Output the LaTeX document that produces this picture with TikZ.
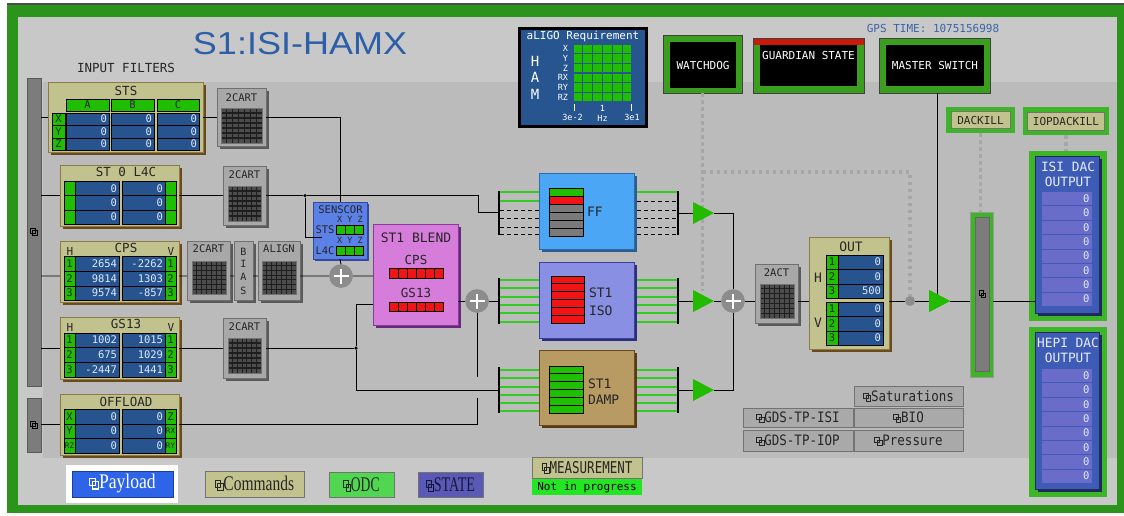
\documentclass[tikz,border=0pt]{standalone}
\usepackage{fontspec}
\setmainfont{Liberation Serif}
\newfontfamily\mono{DejaVu Sans Mono}
\newfontfamily\hel{Liberation Sans}
\newfontfamily\tms{Liberation Serif}
\usetikzlibrary{calc,shadows}

\definecolor{frameG}{HTML}{2B951B}
\definecolor{bgTop}{HTML}{C8C8C8}
\definecolor{bgMain}{HTML}{BBBBBB}
\definecolor{tanF}{HTML}{C2C28F}
\definecolor{tanE}{HTML}{8C7B45}
\definecolor{tanS}{HTML}{6B4A1E}
\definecolor{cellB}{HTML}{27538E}
\definecolor{valT}{HTML}{DCEBFF}
\definecolor{ledG}{HTML}{1FBE00}
\definecolor{ledR}{HTML}{F01414}
\definecolor{ledGray}{HTML}{7A7A7A}
\definecolor{boxG}{HTML}{A8A8A8}
\definecolor{boxE}{HTML}{707070}
\definecolor{boxGS}{HTML}{5A5A5A}
\definecolor{gridD}{HTML}{4C4C4C}
\definecolor{gridL}{HTML}{1E1E1E}
\definecolor{sensB}{HTML}{5B80E6}
\definecolor{sensE}{HTML}{3448A0}
\definecolor{blendP}{HTML}{D67DDC}
\definecolor{blendE}{HTML}{8A3A98}
\definecolor{blendS}{HTML}{65287A}
\definecolor{ffB}{HTML}{4BA6F6}
\definecolor{ffE}{HTML}{2F6AB0}
\definecolor{ffS}{HTML}{2C5C8E}
\definecolor{isoB}{HTML}{898FE2}
\definecolor{isoE}{HTML}{3A3FA0}
\definecolor{isoS}{HTML}{2B2E7A}
\definecolor{dampT}{HTML}{B89B62}
\definecolor{dampE}{HTML}{6A4A20}
\definecolor{dampS}{HTML}{5A3A14}
\definecolor{sumG}{HTML}{8C8C8C}
\definecolor{dotG}{HTML}{A6A6A6}
\definecolor{triG}{HTML}{22BB00}
\definecolor{busG}{HTML}{33CC22}
\definecolor{dkG}{HTML}{3CB526}
\definecolor{dacB}{HTML}{3E5CB6}
\definecolor{dacC}{HTML}{6A6CCA}
\definecolor{dacS}{HTML}{1F2A5E}
\definecolor{dacT}{HTML}{E6ECFF}
\definecolor{ligoB}{HTML}{26558F}
\definecolor{wdG}{HTML}{3C9E1E}
\definecolor{guardR}{HTML}{C81A0A}
\definecolor{titleB}{HTML}{2D5EA8}
\definecolor{gpsB}{HTML}{3A64A8}
\definecolor{txtD}{HTML}{262626}
\definecolor{payB}{HTML}{2D64E8}
\definecolor{payE}{HTML}{1A3C9A}
\definecolor{odcG}{HTML}{50D650}
\definecolor{stateP}{HTML}{5A5AB6}
\definecolor{stateT}{HTML}{16163A}
\definecolor{nipG}{HTML}{22E622}
\definecolor{barG}{HTML}{7C7C7C}
\definecolor{btnG}{HTML}{A9A9A9}

\newcommand\fsz[1]{\fontsize{#1}{#1}\selectfont}
% related-display icon: two overlapping squares
\newcommand\relicon[1][1]{\tikz[x=#1pt,y=#1pt,baseline=0pt,line width=0.8pt]{\draw (0,3) rectangle (6,9); \draw (3,0) rectangle (9,6);}}

\newcount\cellno
% blue readback cell: x1 y1 x2 y2 value
\newcommand\vc[5]{\global\advance\cellno by 1 \edef\cn{\the\cellno}%
  \node[vcell,minimum width={#3-#1},minimum height={#4-#2}] (vc\cn) at (#1,#2) {};%
  \node[valtxt] (vt\cn) at ({#3-1.5},{(#2+#4)/2}) {#5};}
% green label cell: x1 y1 x2 y2 label
\newcommand\gc[5]{\global\advance\cellno by 1 \edef\cn{\the\cellno}%
  \node[gcell,minimum width={#3-#1},minimum height={#4-#2}] (gc\cn) at (#1,#2) {#5};}
% matrix icon
\newcommand\gridicon[4]{%
  \fill[gridD] (#1,#2) rectangle (#3,#4);
  \foreach \k in {1,...,6}{%
    \draw[gridL,line width=1.1pt] ({#1+\k*(#3-#1)/7},#2) -- ({#1+\k*(#3-#1)/7},#4);
    \draw[gridL,line width=1.1pt] (#1,{#2+\k*(#4-#2)/7}) -- (#3,{#2+\k*(#4-#2)/7});}
  \draw[black!55,line width=0.8pt] (#1,#2) rectangle (#3,#4);}
% vertical stack of six filter indicators
\newcommand\vstack[5]{%
  \foreach \c [count=\k from 0] in {#5}{%
    \filldraw[fill=\c,draw=black,line width=0.8pt] (#1,{#2+\k*(#4-#2)/6}) rectangle (#3,{#2+(\k+1)*(#4-#2)/6});}}
% horizontal row of six red indicators
\newcommand\hstack[4]{%
  \foreach \k in {0,...,5}{%
    \filldraw[fill=ledR,draw=black,line width=0.8pt] ({#1+\k*(#3-#1)/6},#2) rectangle ({#1+(\k+1)*(#3-#1)/6},#4);}}
% summing junction
\newcommand\sumnode[3]{%
  \node[sum] (#1) at (#2,#3) {};
  \draw[white,line width=2.6pt] ([xshift=-7.5pt]#1.center) -- ([xshift=7.5pt]#1.center)
    ([yshift=-7.5pt]#1.center) -- ([yshift=7.5pt]#1.center);}
% gain triangle: name, left x, centre y
\newcommand\amp[3]{%
  \fill[triG] (#2,{#3-11}) -- ({#2+21},#3) -- (#2,{#3+11}) -- cycle;
  \coordinate (#1i) at (#2,#3); \coordinate (#1o) at ({#2+21},#3);}
% eight DAC channel rows: top, bottom, name prefix
\newcommand\dacrows[3]{%
  \foreach \k in {0,...,7}{%
    \fill[dacC] (1042,{#1+\k*(#2-#1)/8}) rectangle (1092,{#1+(\k+1)*(#2-#1)/8-1});
    \node[valtxt] (#3\k) at (1090,{#1+(\k+0.45)*(#2-#1)/8}) {0};}}

\begin{document}
\begin{tikzpicture}[x=1pt,y=-1pt,line width=0.9pt,
  lbl/.style={inner sep=0pt,outer sep=0pt,text=txtD,font=\mono\fsz{11}},
  tanbox/.style={anchor=north west,inner sep=0pt,outer sep=0pt,fill=tanF,draw=tanE,line width=0.8pt,
    general shadow={fill=tanS,shadow xshift=3pt,shadow yshift=-3pt}},
  graybox/.style={anchor=north west,inner sep=0pt,outer sep=0pt,fill=boxG,draw=boxE,line width=0.8pt,
    general shadow={fill=boxGS,shadow xshift=2.5pt,shadow yshift=-2.5pt}},
  vcell/.style={anchor=north west,inner sep=0pt,outer sep=0pt,fill=cellB,draw=black,line width=0.7pt},
  gcell/.style={anchor=north west,inner sep=0pt,outer sep=0pt,fill=ledG,draw=black,line width=0.7pt,text=txtD,font=\mono\fsz{10.5}},
  valtxt/.style={anchor=east,inner sep=0pt,text=valT,font=\mono\fsz{10.5}},
  wire/.style={draw=black,line width=0.9pt},
  dots/.style={draw=dotG,line width=3.5pt,dash pattern=on 3.5pt off 3.5pt},
  busg/.style={draw=busG,line width=1.8pt},
  busd/.style={draw=black,line width=1pt,dash pattern=on 4pt off 3pt},
  busbar/.style={fill=black,inner sep=0pt,outer sep=0pt,minimum width=2.2pt},
  sum/.style={circle,fill=sumG,draw=black!45,line width=0.6pt,minimum size=23pt,inner sep=0pt},
  jdot/.style={circle,fill=black,inner sep=0pt,minimum size=3.5pt},
  sidebar/.style={fill=barG,draw=black!65,line width=0.8pt,minimum width=14pt,inner sep=0pt},
  panel/.style={anchor=north west,inner sep=0pt,outer sep=0pt},
  btn/.style={anchor=north west,inner sep=0pt,outer sep=0pt,draw=black!55,line width=0.8pt},
]
\useasboundingbox (0,0) rectangle (1124,515);
% screen background
\fill[white] (0,0) rectangle (1124,515);
\fill[black!70] (7,2.5) rectangle (1124,5);
\fill[frameG] (7,5) rectangle (1124,513);
\fill[bgTop] (18,17) rectangle (1117,505);
\fill[bgMain] (43,82) rectangle (1117,458);

% title and headings
\node[inner sep=0pt,text=titleB] (title) at (300,44) {\scalebox{1}[0.88]{\hel\fsz{36}S1:ISI-HAMX}};
\node[lbl,font=\mono\fsz{12.5}] (inputs) at (126,68) {INPUT FILTERS};
\node[lbl,text=gpsB] (gps) at (933,28) {GPS TIME: 1075156998};

% input side bars
\node[sidebar,minimum height=308pt] (bar1) at (34,232) {\relicon[0.75]};
\node[sidebar,minimum height=54pt] (bar2) at (34,425) {\relicon[0.75]};

% STS
\node[tanbox,minimum width=155pt,minimum height=70pt] (sts) at (48,82) {};
\node[lbl,font=\mono\fsz{12.5}] (stsT) at (126,91) {STS};
\gc{66}{99}{109}{111}{A}\gc{111}{99}{154}{111}{B}\gc{157}{99}{199}{111}{C}
\gc{52}{113}{65}{125}{X}\gc{52}{125}{65}{138}{Y}\gc{52}{138}{65}{150}{Z}
\foreach \ya/\yb in {113/125,125/138,138/150}{\vc{66}{\ya}{109}{\yb}{0}\vc{111}{\ya}{154}{\yb}{0}\vc{157}{\ya}{199}{\yb}{0}}

% ST0 L4C
\node[tanbox,minimum width=119pt,minimum height=61pt] (l4c) at (60,165) {};
\node[lbl,font=\mono\fsz{12.5}] (l4cT) at (126,172) {ST 0 L4C};
\foreach \ya/\yb in {181/195.5,195.5/210,210/224}{\gc{64}{\ya}{75}{\yb}{}\vc{75}{\ya}{119}{\yb}{0}\vc{122}{\ya}{165}{\yb}{0}\gc{165}{\ya}{176}{\yb}{}}

% CPS
\node[tanbox,minimum width=119pt,minimum height=61pt] (cps) at (60,241) {};
\node[lbl,font=\mono\fsz{12.5}] (cpsT) at (126,248) {CPS};
\node[lbl] (cpsH) at (70,251) {H};
\node[lbl] (cpsV) at (171,251) {V};
\foreach \ya/\yb/\n/\a/\b in {256/271/1/2654/-2262,271/286/2/9814/1303,286/300/3/9574/-857}{\gc{64}{\ya}{75}{\yb}{\n}\vc{75}{\ya}{119}{\yb}{\a}\vc{122}{\ya}{165}{\yb}{\b}\gc{165}{\ya}{176}{\yb}{\n}}

% GS13
\node[tanbox,minimum width=119pt,minimum height=62pt] (gs13) at (60,317) {};
\node[lbl,font=\mono\fsz{12.5}] (gs13T) at (126,324) {GS13};
\node[lbl] (gsH) at (70,327) {H};
\node[lbl] (gsV) at (171,327) {V};
\foreach \ya/\yb/\n/\a/\b in {333/347/1/1002/1015,347/362/2/675/1029,362/377/3/-2447/1441}{\gc{64}{\ya}{75}{\yb}{\n}\vc{75}{\ya}{119}{\yb}{\a}\vc{122}{\ya}{165}{\yb}{\b}\gc{165}{\ya}{176}{\yb}{\n}}

% OFFLOAD
\node[tanbox,minimum width=119pt,minimum height=61pt] (off) at (60,394) {};
\node[lbl,font=\mono\fsz{12.5}] (offT) at (126,402) {OFFLOAD};
\gc{64}{409}{75}{424}{X}\vc{75}{409}{119}{424}{0}\vc{122}{409}{165}{424}{0}\gc{165}{409}{176}{424}{Z}
\gc{64}{424}{75}{438}{Y}\vc{75}{424}{119}{438}{0}\vc{122}{424}{165}{438}{0}\gc{165}{424}{176}{438}{\fsz{7.5}RX}
\gc{64}{438}{75}{453}{\fsz{7.5}RZ}\vc{75}{438}{119}{453}{0}\vc{122}{438}{165}{453}{0}\gc{165}{438}{176}{453}{\fsz{7.5}RY}

% basis-change and alignment matrices
\node[graybox,minimum width=49pt,minimum height=58pt] (cart1) at (217,88) {};
\node[lbl,font=\mono\fsz{10.5}] (cart1T) at (241.5,98) {2CART};
\gridicon{221}{108}{262}{143}
\node[graybox,minimum width=43pt,minimum height=59pt] (cart2) at (223,166) {};
\node[lbl,font=\mono\fsz{10.5}] (cart2T) at (244.5,175) {2CART};
\gridicon{228}{186}{261}{221}
\node[graybox,minimum width=43pt,minimum height=59pt] (cart3) at (187,241) {};
\node[lbl,font=\mono\fsz{10.5}] (cart3T) at (208.5,249) {2CART};
\gridicon{192}{261}{226}{294}
\node[graybox,minimum width=19pt,minimum height=59pt] (bias) at (234,241) {};
\node[lbl,font=\mono\fsz{10}] (biasB) at (243.5,252) {B};
\node[lbl,font=\mono\fsz{10}] (biasI) at (243.5,264) {I};
\node[lbl,font=\mono\fsz{10}] (biasA) at (243.5,277) {A};
\node[lbl,font=\mono\fsz{10}] (biasS) at (243.5,291) {S};
\node[graybox,minimum width=42pt,minimum height=59pt] (align) at (258,241) {};
\node[lbl,font=\mono\fsz{10.5}] (alignT) at (279,249) {ALIGN};
\gridicon{262}{261}{296}{294}
\node[graybox,minimum width=43pt,minimum height=60pt] (cart4) at (223,318) {};
\node[lbl,font=\mono\fsz{10.5}] (cart4T) at (244.5,327) {2CART};
\gridicon{228}{338}{261}{373}

% sensor correction
\node[panel,fill=sensB,draw=sensE,line width=0.8pt,minimum width=54pt,minimum height=57pt,
  general shadow={fill=sensE,shadow xshift=1.5pt,shadow yshift=-1.5pt}] (sens) at (313,202) {};
\node[lbl,font=\mono\fsz{10.5}] (sensT) at (340.5,209.5) {SENSCOR};
\node[lbl,font=\mono\fsz{8.5}] (sensX1) at (350,219.5) {X Y Z};
\node[lbl,font=\mono\fsz{10.5}] (sensS) at (325,230) {STS};
\gc{336}{225}{345}{234}{}\gc{345}{225}{354}{234}{}\gc{354}{225}{363}{234}{}
\node[lbl,font=\mono\fsz{8.5}] (sensX2) at (350,240.5) {X Y Z};
\node[lbl,font=\mono\fsz{10.5}] (sensL) at (325,251) {L4C};
\gc{336}{246}{345}{255}{}\gc{345}{246}{354}{255}{}\gc{354}{246}{363}{255}{}

% blend
\node[panel,fill=blendP,draw=blendE,line width=0.8pt,minimum width=85pt,minimum height=101pt,
  general shadow={fill=blendS,shadow xshift=3pt,shadow yshift=-3pt}] (blend) at (373,224) {};
\node[lbl,font=\mono\fsz{13}] (blendT) at (416,238) {ST1 BLEND};
\node[lbl,font=\mono\fsz{12.5}] (blendC) at (416,260) {CPS};
\hstack{389}{268}{443}{278}
\node[lbl,font=\mono\fsz{12.5}] (blendG) at (416,293) {GS13};
\hstack{389}{302}{443}{311}

% summing junctions
\sumnode{s1}{341}{276}
\sumnode{s2}{477}{301}
\sumnode{s3}{733}{301}
\node[jdot] (j1) at (305,195.5) {};
\node[jdot] (j2) at (356,348) {};

% control banks
\node[panel,fill=ffB,draw=ffE,line width=0.8pt,minimum width=95pt,minimum height=76pt,
  general shadow={fill=ffS,shadow xshift=3pt,shadow yshift=-3pt}] (ff) at (539,173) {};
\vstack{549}{188}{583}{236}{ledG,ledR,ledGray,ledGray,ledGray,ledGray}
\node[lbl,font=\mono\fsz{13},anchor=west] (ffT) at (587,212) {FF};
\node[panel,fill=isoB,draw=isoE,line width=0.8pt,minimum width=95pt,minimum height=76pt,
  general shadow={fill=isoS,shadow xshift=3pt,shadow yshift=-3pt}] (iso) at (539,262) {};
\vstack{551}{276}{584}{323}{ledR,ledR,ledR,ledR,ledR,ledR}
\node[lbl,font=\mono\fsz{13},anchor=west] (isoT1) at (589,293) {ST1};
\node[lbl,font=\mono\fsz{13},anchor=west] (isoT2) at (589,311) {ISO};
\node[panel,fill=dampT,draw=dampE,line width=0.8pt,minimum width=95pt,minimum height=75pt,
  general shadow={fill=dampS,shadow xshift=3pt,shadow yshift=-3pt}] (damp) at (539,350) {};
\vstack{549}{366}{583}{413}{ledG,ledG,ledG,ledG,ledG,ledG}
\node[lbl,font=\mono\fsz{13},anchor=west] (dampT1) at (588,384) {ST1};
\node[lbl,font=\mono\fsz{13},anchor=west] (dampT2) at (588,400) {DAMP};

% bus bars
\node[busbar,minimum height=44pt] (ffin) at (499,212.5) {};
\node[busbar,minimum height=44pt] (ffout) at (678,212.5) {};
\node[busbar,minimum height=46pt] (isoin) at (499,300.5) {};
\node[busbar,minimum height=46pt] (isoout) at (678,300.5) {};
\node[busbar,minimum height=46pt] (dampin) at (499,390) {};
\node[busbar,minimum height=46pt] (dampout) at (678,390) {};
\foreach \y/\s in {192/busg,201/busg,210/busd,218/busd,227/busd,234/busd} \draw[\s] (500,\y) -- (539,\y);
\foreach \y/\s in {192/busg,201/busd,210/busd,218/busd,227/busd,234/busd} \draw[\s] (637,\y) -- (677,\y);
\foreach \y in {280,288,297,305,313,322} {\draw[busg] (500,\y) -- (539,\y); \draw[busg] (637,\y) -- (677,\y);}
\foreach \y in {370,378,387,395,403,411} {\draw[busg] (500,\y) -- (539,\y); \draw[busg] (637,\y) -- (677,\y);}

% merge point of the interlock links
\node[circle,fill=dotG!85!black,inner sep=0pt,minimum size=10pt] (dotn) at (910,301) {};

% actuator matrix and outputs
\node[graybox,minimum width=43pt,minimum height=59pt] (act) at (755,264) {};
\node[lbl,font=\mono\fsz{10.5}] (actT) at (776.5,273) {2ACT};
\gridicon{760}{284}{794}{318}
\node[tanbox,minimum width=80pt,minimum height=112pt] (out) at (809,237) {};
\node[lbl,font=\mono\fsz{13}] (outT) at (851,247) {OUT};
\node[lbl,font=\mono\fsz{13}] (outH) at (818,278) {H};
\node[lbl,font=\mono\fsz{13}] (outV) at (818,323) {V};
\foreach \ya/\yb/\n/\v in {255/269/1/0,269/284/2/0,284/298/3/500,302/316/1/0,316/331/2/0,331/345/3/0}{\gc{826}{\ya}{838}{\yb}{\n}\vc{838}{\ya}{883}{\yb}{\v}}

% DAC selector and DAC outputs
\node[panel,fill=dkG,draw=black!40,line width=0.6pt,minimum width=23pt,minimum height=165pt] (dsel) at (970,212) {};
\node[fill=barG,draw=black!60,line width=0.8pt,inner sep=0pt,minimum width=14pt,minimum height=154pt] (dselB) at (982.5,294) {\relicon[0.7]};
\node[panel,fill=dkG,minimum width=78pt,minimum height=170pt] (isidac) at (1029,151) {};
\node[panel,fill=dacB,draw=dacS,line width=0.8pt,minimum width=64pt,minimum height=157pt,
  general shadow={fill=dacS,shadow xshift=2.5pt,shadow yshift=-2.5pt}] (isiin) at (1035,156) {};
\node[lbl,text=dacT,font=\mono\fsz{12.8}] (isiT1) at (1068,167) {ISI DAC};
\node[lbl,text=dacT,font=\mono\fsz{12.8}] (isiT2) at (1068,182) {OUTPUT};
\dacrows{192}{307}{isiv}
\node[panel,fill=dkG,minimum width=78pt,minimum height=170pt] (hepidac) at (1029,327) {};
\node[panel,fill=dacB,draw=dacS,line width=0.8pt,minimum width=64pt,minimum height=157pt,
  general shadow={fill=dacS,shadow xshift=2.5pt,shadow yshift=-2.5pt}] (hepiin) at (1035,332) {};
\node[lbl,text=dacT,font=\mono\fsz{12.8}] (hepiT1) at (1068,343) {HEPI DAC};
\node[lbl,text=dacT,font=\mono\fsz{12.8}] (hepiT2) at (1068,358) {OUTPUT};
\dacrows{369}{484}{hepiv}

% requirement display
\node[panel,fill=ligoB,draw=black,line width=3pt,minimum width=127pt,minimum height=98pt] (ligo) at (519.5,28.5) {};
\node[lbl,text=white] (ligoT) at (583,36) {aLIGO Requirement};
\node[lbl,text=white,font=\mono\fsz{14}] (ligoH) at (535,61) {H};
\node[lbl,text=white,font=\mono\fsz{14}] (ligoA) at (535,77) {A};
\node[lbl,text=white,font=\mono\fsz{14}] (ligoM) at (535,94) {M};
\foreach \d [count=\k from 0] in {X,Y,Z,RX,RY,RZ}
  \node[lbl,text=white,font=\mono\fsz{8.5},anchor=east] (dof\k) at (568,{48.8+\k*9.67}) {\d};
\foreach \i in {0,...,5}{\foreach \j in {0,...,5}{
  \fill[ledG] ({573+\i*9.83+0.6},{44+\j*9.67+0.6}) rectangle ({573+(\i+1)*9.83-0.6},{44+(\j+1)*9.67-0.6});}}
\draw[white,line width=1.2pt] (574.5,104) -- (574.5,111) (631.5,104) -- (631.5,111);
\node[lbl,text=white,font=\mono\fsz{8.5}] (ligo1) at (602.5,108) {1};
\node[lbl,text=white,font=\mono\fsz{8.5}] (ligoHz) at (602.5,118) {Hz};
\node[lbl,text=white,font=\mono\fsz{8.5}] (ligoLo) at (572.5,117) {3e-2};
\node[lbl,text=white,font=\mono\fsz{8.5}] (ligoHi) at (632,117) {3e1};

% status panels
\node[panel,fill=wdG,draw=black!75,line width=0.9pt,minimum width=79pt,minimum height=58pt] (wd) at (663,35) {};
\node[fill=black,inner sep=0pt,minimum width=66pt,minimum height=46pt,text=white,font=\mono\fsz{11}] (wdT) at (703,65) {WATCHDOG};
\node[panel,fill=wdG,draw=black!75,line width=0.9pt,minimum width=111pt,minimum height=55pt] (gd) at (753,38) {};
\fill[guardR] (753.5,38.5) rectangle (863.5,45);
\node[panel,fill=black,minimum width=97pt,minimum height=41pt] (gdB) at (760,45) {};
\node[lbl,text=white] (gdT) at (808.5,55) {GUARDIAN STATE};
\node[panel,fill=wdG,draw=black!75,line width=0.9pt,minimum width=111pt,minimum height=55pt] (ms) at (879,38) {};
\node[fill=black,inner sep=0pt,minimum width=98pt,minimum height=41pt,text=white,font=\mono\fsz{11}] (msT) at (935,65.5) {MASTER SWITCH};
\node[panel,fill=dkG,minimum width=69pt,minimum height=26pt] (dk) at (946,107) {};
\node[btn,fill=tanF,minimum width=59pt,minimum height=17pt,font=\mono\fsz{11},text=txtD] (dkB) at (951,111.5) {DACKILL};
\node[panel,fill=dkG,minimum width=86pt,minimum height=28pt] (iopdk) at (1023,107) {};
\node[btn,fill=tanF,minimum width=77pt,minimum height=18pt,font=\mono\fsz{11},text=txtD] (iopB) at (1027.5,112) {IOPDACKILL};

% navigation buttons
\node[panel,fill=white,minimum width=112pt,minimum height=38pt] (payW) at (66,465) {};
\node[btn,fill=payB,draw=payE,minimum width=101pt,minimum height=26pt,text=white] (pay) at (72,471) {\tms\fsz{16}\scalebox{1.1}[1.3]{\relicon[0.9]Payload}};
\node[btn,fill=tanF,minimum width=99pt,minimum height=26pt,text=txtD] (cmd) at (205,471) {\tms\fsz{16}\scalebox{0.97}[1.3]{\relicon[0.9]Commands}};
\node[btn,fill=odcG,minimum width=65pt,minimum height=25pt,text=txtD] (odc) at (329,472) {\tms\fsz{16}\scalebox{0.85}[1.3]{\relicon[0.9]ODC}};
\node[btn,fill=stateP,minimum width=65pt,minimum height=25pt,text=stateT] (state) at (418,472) {\tms\fsz{16}\scalebox{0.88}[1.3]{\relicon[0.9]STATE}};
\node[btn,fill=tanF,minimum width=110pt,minimum height=21pt,text=txtD] (meas) at (532,457) {\mono\fsz{12.5}\scalebox{1}[1.3]{\relicon[0.8]MEASUREMENT}};
\node[panel,fill=nipG,minimum width=110pt,minimum height=16pt,text=black,font=\mono\fsz{11}] (nip) at (532,479) {Not in progress};
\node[btn,fill=btnG,minimum width=109pt,minimum height=20pt,text=txtD] (sat) at (854,386) {\mono\fsz{12.5}\scalebox{1}[1.15]{\relicon[0.8]Saturations}};
\node[btn,fill=btnG,minimum width=110pt,minimum height=19pt,text=txtD] (gdsisi) at (743,408) {\mono\fsz{12.5}\scalebox{1}[1.15]{\relicon[0.8]GDS-TP-ISI}};
\node[btn,fill=btnG,minimum width=109pt,minimum height=19pt,text=txtD] (bio) at (854,408) {\mono\fsz{12.5}\scalebox{1}[1.15]{\relicon[0.8]BIO}};
\node[btn,fill=btnG,minimum width=110pt,minimum height=21pt,text=txtD] (gdsiop) at (743,430) {\mono\fsz{12.5}\scalebox{1}[1.15]{\relicon[0.8]GDS-TP-IOP}};
\node[btn,fill=btnG,minimum width=109pt,minimum height=21pt,text=txtD] (press) at (854,430) {\mono\fsz{12.5}\scalebox{1}[1.15]{\relicon[0.8]Pressure}};

% ---- interlock links (dotted), drawn beneath the gain stages ----
\coordinate (wdEnd) at (702.5,291);
\coordinate (dj) at (702.5,172);
\draw[dots] (wd.south) -- (wdEnd);
\draw[dots] (dj) -| (dotn.north);
\draw[dots] (dk.south) -- (dk.south |- dsel.north);
\draw[dots] (iopdk.south) -- (iopdk.south |- isidac.north);

% ---- signal wiring ----
\coordinate (fbend) at (478,212.5);
\coordinate (gapLo) at (477,398);
\coordinate (gapHi) at (477,377);
\coordinate (msEnd) at (937.5,296);
% STS path
\draw[wire] (bar1.east |- sts.west) -- (sts.west)
  (sts.east) -- (cart1.west |- sts.east)
  (cart1.east |- sts.east) -| (sens.north);
% L4C path
\draw[wire] (bar1.east |- l4c.west) -- (l4c.west)
  (l4c.east) -- (cart2.west |- l4c.east)
  (cart2.east |- l4c.east) -- (j1)
  (j1) -| (fbend) -- (ffin.west);
\draw[wire] (j1) |- ($(sens.north west)+(9,35)$);
% CPS path
\draw[wire] (bar1.east |- s1) -- (cps.west |- s1)
  (cps.east |- s1) -- (cart3.west |- s1)
  (cart3.east |- s1) -- (bias.west |- s1)
  (bias.east |- s1) -- (align.west |- s1)
  (align.east |- s1) -- (s1.west)
  (s1.east) -- (blend.west |- s1)
  (sens.south) -- (s1.north);
% GS13 path
\draw[wire] (bar1.east |- gs13.west) -- (gs13.west)
  (gs13.east) -- (cart4.west |- gs13.east)
  (cart4.east |- gs13.east) -- (j2);
\draw[wire] ($(blend.north west)+(0,80)$) -| (j2) |- (dampin.west);
\draw[wire] (blend.east |- s2) -- (s2.west) (s2.east) -- (isoin.west |- s2);
% offload path
\draw[wire] (bar2.east |- off.west) -- (off.west);
\draw[wire] (off.east) -| (gapLo);
\draw[wire] (gapHi) -- (s2.south);

% gain stages
\amp{t1}{693}{213}
\amp{t2}{693}{301}
\amp{t3}{693}{390}
\amp{t4}{929}{301}

% bank outputs to the actuators
\draw[wire] (ffout.east |- t1i) -- (t1i) (t1o) -| (s3.north);
\draw[wire] (isoout.east |- t2i) -- (t2i) (t2o) -- (s3.west);
\draw[wire] (dampout.east |- t3i) -- (t3i) (t3o) -| (s3.south);
\draw[wire] (s3.east) -- (act.west |- s3)
  (act.east |- s3) -- (out.west |- s3)
  (out.east |- s3) -- (dotn.west)
  (dotn.east) -- (t4i)
  (t4o) -- (dsel.west |- t4o)
  (dsel.east |- t4o) -- (isiin.west |- t4o);
\draw[wire,line width=1.8pt] (ms.south -| msEnd) -- (msEnd);
\amp{t4}{929}{301}
\end{tikzpicture}
\end{document}
